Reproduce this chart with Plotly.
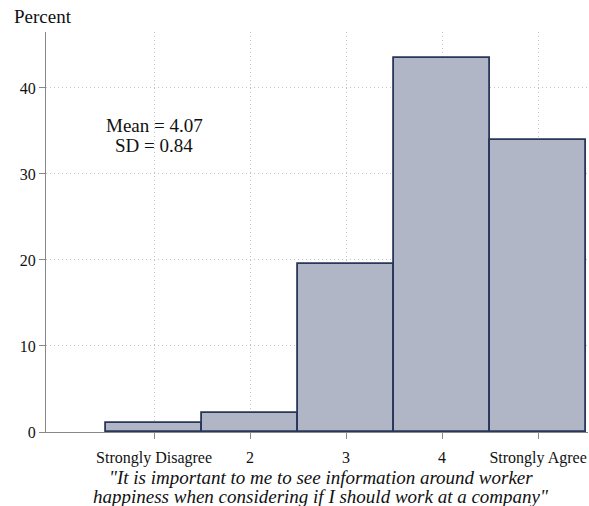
import plotly.graph_objects as go

categories = [1, 2, 3, 4, 5]
tick_labels = ["Strongly Disagree", "2", "3", "4", "Strongly Agree"]
percent = [1.0, 2.2, 19.5, 43.5, 33.9]
y_ticks = [0, 10, 20, 30, 40]
stats_lines = ["Mean = 4.07", "SD = 0.84"]
title_lines = ["\"It is important to me to see information around worker",
               "happiness when considering if I should work at a company\""]

FONT = "Liberation Serif"

fig = go.Figure()
fig.add_trace(go.Bar(
    x=categories, y=percent, width=1,
    marker=dict(color="#b0b6c6", line=dict(color="#28365a", width=1.8)),
    hoverinfo="x+y",
))

# Mean / SD text
for i, line in enumerate(stats_lines):
    fig.add_annotation(x=1, y=35.6 - 2.25 * i, xref="x", yref="y", text=line,
                       showarrow=False, font=dict(family=FONT, size=19, color="#111"),
                       xanchor="center", yanchor="middle")

# y axis title at top-left
fig.add_annotation(x=0, y=1, xref="paper", yref="paper", xshift=-34, yshift=3,
                   text="Percent", showarrow=False, xanchor="left", yanchor="bottom",
                   font=dict(family=FONT, size=19, color="#111"))

# x axis title (two italic lines)
for i, line in enumerate(title_lines):
    fig.add_annotation(x=0.508, y=0, xref="paper", yref="paper", yshift=-45 - 19.6 * i,
                       text="<i>" + line + "</i>", showarrow=False,
                       xanchor="center", yanchor="middle",
                       font=dict(family=FONT, size=19, color="#111"))

fig.update_layout(
    width=589, height=506,
    margin=dict(l=46, r=1, t=32, b=74),
    paper_bgcolor="white", plot_bgcolor="white",
    bargap=0, showlegend=False,
    font=dict(family=FONT, size=15, color="#111"),
)
fig.update_xaxes(
    range=[-0.125, 5.52], tickvals=categories, ticktext=tick_labels,
    ticks="outside", ticklen=6, tickcolor="#888", tickwidth=1,
    showline=True, linecolor="#888", linewidth=1.2,
    showgrid=True, gridcolor="#c4c4c4", griddash="1px,3px", gridwidth=1,
    zeroline=False, ticklabelstandoff=5,
    tickfont=dict(family=FONT, size=16),
)
fig.update_yaxes(
    range=[0, 46.5], tickvals=y_ticks,
    ticks="outside", ticklen=6, tickcolor="#888", tickwidth=1,
    showline=True, linecolor="#888", linewidth=1.2,
    showgrid=True, gridcolor="#c4c4c4", griddash="1px,3px", gridwidth=1,
    zeroline=False,
    tickfont=dict(family=FONT, size=16),
)

fig.write_html("out.html", config={"displayModeBar": False},
               post_script="document.body.style.margin='0';")
